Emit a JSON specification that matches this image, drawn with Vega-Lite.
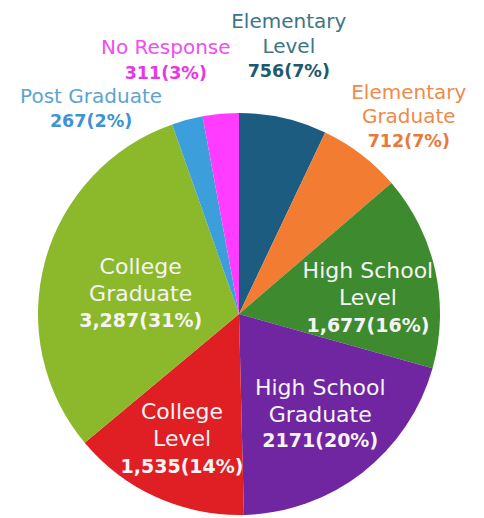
{
  "$schema": "https://vega.github.io/schema/vega-lite/v6.json",
  "width": 478,
  "height": 400,
  "autosize": {"type": "none"},
  "padding": {"left": 0, "right": 6, "top": 114, "bottom": 4},
  "background": "white",
  "view": {"stroke": null},
  "data": {
    "values": [
      {"category": "Elementary Level", "name": "Elementary\nLevel", "valueText": "756(7%)", "value": 756, "order": 1},
      {"category": "Elementary Graduate", "name": "Elementary\nGraduate", "valueText": "712(7%)", "value": 712, "order": 2},
      {"category": "High School Level", "name": "High School\nLevel", "valueText": "1,677(16%)", "value": 1677, "order": 3},
      {"category": "High School Graduate", "name": "High School\nGraduate", "valueText": "2171(20%)", "value": 2171, "order": 4},
      {"category": "College Level", "name": "College\nLevel", "valueText": "1,535(14%)", "value": 1535, "order": 5},
      {"category": "College Graduate", "name": "College\nGraduate", "valueText": "3,287(31%)", "value": 3287, "order": 6},
      {"category": "Post Graduate", "name": "Post Graduate", "valueText": "267(2%)", "value": 267, "order": 7},
      {"category": "No Response", "name": "No Response", "valueText": "311(3%)", "value": 311, "order": 8}
    ]
  },
  "encoding": {
    "theta": {"field": "value", "type": "quantitative", "stack": true},
    "order": {"field": "order", "type": "quantitative"}
  },
  "layer": [
    {
      "mark": {"type": "arc", "outerRadius": 201},
      "encoding": {
        "color": {
          "field": "category",
          "type": "nominal",
          "legend": null,
          "scale": {
            "domain": ["Elementary Level", "Elementary Graduate", "High School Level", "High School Graduate", "College Level", "College Graduate", "Post Graduate", "No Response"],
            "range": ["#1b5c80", "#f27d32", "#3e8a2e", "#7026a0", "#e01f25", "#8cb92b", "#3c9fdc", "#ff3cff"]
          }
        }
      }
    },
    {
      "mark": {"type": "text", "radius": 130, "font": "DejaVu Sans", "fontSize": 22, "lineHeight": 27, "lineBreak": "\n", "color": "#f4f4f4", "baseline": "middle", "align": "center", "dx": 2, "dy": -15},
      "encoding": {"text": {"condition": {"test": "datum.category === 'High School Level'", "field": "name", "type": "nominal"}, "value": ""}}
    },
    {
      "mark": {"type": "text", "radius": 130, "font": "DejaVu Sans", "fontWeight": "bold", "fontSize": 19, "color": "#f4f4f4", "baseline": "middle", "align": "center", "dx": 2, "dy": 40},
      "encoding": {"text": {"condition": {"test": "datum.category === 'High School Level'", "field": "valueText", "type": "nominal"}, "value": ""}}
    },
    {
      "mark": {"type": "text", "radius": 129, "font": "DejaVu Sans", "fontSize": 22, "lineHeight": 27, "lineBreak": "\n", "color": "#f4f4f4", "baseline": "middle", "align": "center", "dx": 2, "dy": -28},
      "encoding": {"text": {"condition": {"test": "datum.category === 'High School Graduate'", "field": "name", "type": "nominal"}, "value": ""}}
    },
    {
      "mark": {"type": "text", "radius": 129, "font": "DejaVu Sans", "fontWeight": "bold", "fontSize": 19, "color": "#f4f4f4", "baseline": "middle", "align": "center", "dx": 2, "dy": 25},
      "encoding": {"text": {"condition": {"test": "datum.category === 'High School Graduate'", "field": "valueText", "type": "nominal"}, "value": ""}}
    },
    {
      "mark": {"type": "text", "radius": 138, "font": "DejaVu Sans", "fontSize": 22, "lineHeight": 27, "lineBreak": "\n", "color": "#f4f4f4", "baseline": "middle", "align": "center", "dy": -28},
      "encoding": {"text": {"condition": {"test": "datum.category === 'College Level'", "field": "name", "type": "nominal"}, "value": ""}}
    },
    {
      "mark": {"type": "text", "radius": 138, "font": "DejaVu Sans", "fontWeight": "bold", "fontSize": 19, "color": "#f4f4f4", "baseline": "middle", "align": "center", "dy": 27},
      "encoding": {"text": {"condition": {"test": "datum.category === 'College Level'", "field": "valueText", "type": "nominal"}, "value": ""}}
    },
    {
      "mark": {"type": "text", "radius": 102, "font": "DejaVu Sans", "fontSize": 22, "lineHeight": 27, "lineBreak": "\n", "color": "#f4f4f4", "baseline": "middle", "align": "center", "dy": -20},
      "encoding": {"text": {"condition": {"test": "datum.category === 'College Graduate'", "field": "name", "type": "nominal"}, "value": ""}}
    },
    {
      "mark": {"type": "text", "radius": 102, "font": "DejaVu Sans", "fontWeight": "bold", "fontSize": 19, "color": "#f4f4f4", "baseline": "middle", "align": "center", "dy": 34},
      "encoding": {"text": {"condition": {"test": "datum.category === 'College Graduate'", "field": "valueText", "type": "nominal"}, "value": ""}}
    },
    {
      "mark": {"type": "text", "radius": 272, "font": "DejaVu Sans", "fontSize": 20, "lineHeight": 25, "lineBreak": "\n", "color": "#3d7584", "baseline": "middle", "align": "center", "dx": -10, "dy": -27},
      "encoding": {"text": {"condition": {"test": "datum.category === 'Elementary Level'", "field": "name", "type": "nominal"}, "value": ""}}
    },
    {
      "mark": {"type": "text", "radius": 272, "font": "DejaVu Sans", "fontWeight": "bold", "fontSize": 17.5, "color": "#20596b", "baseline": "middle", "align": "center", "dx": -10, "dy": 23},
      "encoding": {"text": {"condition": {"test": "datum.category === 'Elementary Level'", "field": "valueText", "type": "nominal"}, "value": ""}}
    },
    {
      "mark": {"type": "text", "radius": 260, "font": "DejaVu Sans", "fontSize": 20, "lineHeight": 24, "lineBreak": "\n", "color": "#f08a4b", "baseline": "middle", "align": "center", "dx": 12, "dy": -14},
      "encoding": {"text": {"condition": {"test": "datum.category === 'Elementary Graduate'", "field": "name", "type": "nominal"}, "value": ""}}
    },
    {
      "mark": {"type": "text", "radius": 260, "font": "DejaVu Sans", "fontWeight": "bold", "fontSize": 17.5, "color": "#e8793a", "baseline": "middle", "align": "center", "dx": 12, "dy": 35},
      "encoding": {"text": {"condition": {"test": "datum.category === 'Elementary Graduate'", "field": "valueText", "type": "nominal"}, "value": ""}}
    },
    {
      "mark": {"type": "text", "radius": 255, "font": "DejaVu Sans", "fontSize": 20, "color": "#f04ef0", "baseline": "middle", "align": "center", "dx": -50, "dy": -12},
      "encoding": {"text": {"condition": {"test": "datum.category === 'No Response'", "field": "name", "type": "nominal"}, "value": ""}}
    },
    {
      "mark": {"type": "text", "radius": 255, "font": "DejaVu Sans", "fontWeight": "bold", "fontSize": 17.5, "color": "#e636e6", "baseline": "middle", "align": "center", "dx": -50, "dy": 14},
      "encoding": {"text": {"condition": {"test": "datum.category === 'No Response'", "field": "valueText", "type": "nominal"}, "value": ""}}
    },
    {
      "mark": {"type": "text", "radius": 252, "font": "DejaVu Sans", "fontSize": 20, "color": "#5da4d2", "baseline": "middle", "align": "center", "dx": -83, "dy": 26.5},
      "encoding": {"text": {"condition": {"test": "datum.category === 'Post Graduate'", "field": "name", "type": "nominal"}, "value": ""}}
    },
    {
      "mark": {"type": "text", "radius": 252, "font": "DejaVu Sans", "fontWeight": "bold", "fontSize": 17.5, "color": "#3d94d0", "baseline": "middle", "align": "center", "dx": -83, "dy": 51.5},
      "encoding": {"text": {"condition": {"test": "datum.category === 'Post Graduate'", "field": "valueText", "type": "nominal"}, "value": ""}}
    }
  ]
}
